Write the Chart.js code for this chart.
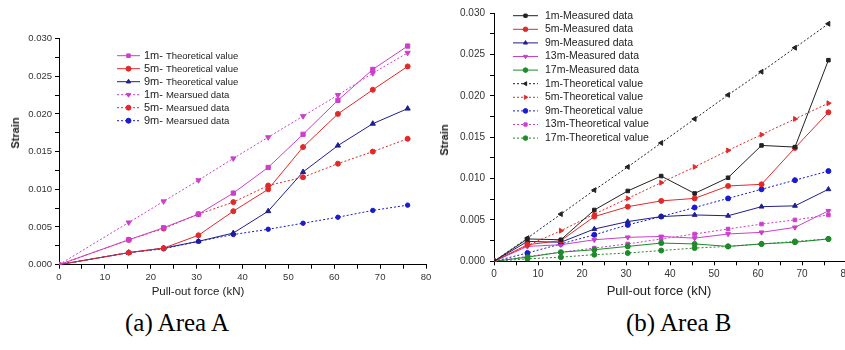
<!DOCTYPE html>
<html>
<head>
<meta charset="utf-8">
<script src="https://cdn.jsdelivr.net/npm/chart.js@4.4.0/dist/chart.umd.min.js"></script>
<style>
  html, body { margin: 0; padding: 0; background: #fff; }
  body { width: 845px; height: 350px; overflow: hidden; position: relative; font-family: "Liberation Sans", Arial, sans-serif; }
  canvas { position: absolute; top: 0; }
  #chartA { left: 0; }
  #chartB { left: 430px; }
  .ytitle { position: absolute; font-weight: bold; font-size: 11px; color: #222; transform: translate(-50%, -50%) rotate(-90deg); white-space: nowrap; }
  .xtitle { position: absolute; color: #222; transform: translate(-50%, -50%); white-space: nowrap; }
  .caption { position: absolute; font-family: "Liberation Serif", "Times New Roman", serif; font-size: 25px; color: #000; white-space: nowrap; }
</style>
</head>
<body>
<canvas id="chartA" width="440" height="300"></canvas>
<canvas id="chartB" width="425" height="300"></canvas>

<div class="ytitle" style="left:15px; top:133px;">Strain</div>
<div class="ytitle" style="left:444px; top:140px;">Strain</div>
<div class="xtitle" style="left:198px; top:291px; font-size:11.5px;">Pull-out force (kN)</div>
<div class="xtitle" style="left:659px; top:290px; font-size:13px;">Pull-out force (kN)</div>
<div class="caption" style="left:125px; top:309px;">(a) Area A</div>
<div class="caption" style="left:626px; top:309px;">(b) Area B</div>

<script>
// --- Area A
var forceA = [0, 15.2, 22.8, 30.4, 38, 45.6, 53.2, 60.8, 68.4, 76];
var a1mTheo = [0, 0.0033, 0.0049, 0.0067, 0.0095, 0.0129, 0.0173, 0.0218, 0.0259, 0.0290];
var a5mTheo = [0, 0.0016, 0.0022, 0.0039, 0.0071, 0.0100, 0.0156, 0.0200, 0.0232, 0.0263];
var a9mTheo = [0, 0.0016, 0.0022, 0.0031, 0.0042, 0.0071, 0.0123, 0.0158, 0.0187, 0.0207];
var a1mMeas = [0, 0.0056, 0.0084, 0.0112, 0.0141, 0.0169, 0.0197, 0.0225, 0.0254, 0.0281];
var a5mMeas = [0, 0.0033, 0.0048, 0.0067, 0.0083, 0.0105, 0.0116, 0.0134, 0.0150, 0.0167];
var a9mMeas = [0, 0.0016, 0.0021, 0.0031, 0.0040, 0.0047, 0.0055, 0.0063, 0.0072, 0.0079];

// --- Area B
var forceB = [0, 7.6, 15.2, 22.8, 30.4, 38, 45.6, 53.2, 60.8, 68.4, 76];
var b1mMeas = [0, 0.0027, 0.0026, 0.0062, 0.0085, 0.0103, 0.0082, 0.0101, 0.0140, 0.0138, 0.0243];
var b5mMeas = [0, 0.0020, 0.0025, 0.0054, 0.0066, 0.0073, 0.0076, 0.0091, 0.0093, 0.0137, 0.0180];
var b9mMeas = [0, 0.0024, 0.0023, 0.0039, 0.0048, 0.0054, 0.0056, 0.0055, 0.0066, 0.0067, 0.0087];
var b13mMeas = [0, 0.0018, 0.0020, 0.0026, 0.0029, 0.0030, 0.0028, 0.0033, 0.0035, 0.0041, 0.0061];
var b17mMeas = [0, 0.0005, 0.0011, 0.0014, 0.0018, 0.0022, 0.0021, 0.0018, 0.0021, 0.0023, 0.0027];
var b1mTheo = [0, 0.0028, 0.0057, 0.0086, 0.0114, 0.0143, 0.0172, 0.0201, 0.0229, 0.0258, 0.0287];
var b5mTheo = [0, 0.0019, 0.0037, 0.0057, 0.0076, 0.0095, 0.0114, 0.0134, 0.0153, 0.0172, 0.0191];
var b9mTheo = [0, 0.0010, 0.0021, 0.0032, 0.0044, 0.0054, 0.0065, 0.0076, 0.0087, 0.0098, 0.0109];
var b13mTheo = [0, 0.0006, 0.0011, 0.0016, 0.0021, 0.0027, 0.0033, 0.0039, 0.0045, 0.0050, 0.0056];
var b17mTheo = [0, 0.0003, 0.0005, 0.0008, 0.0010, 0.0013, 0.0016, 0.0018, 0.0021, 0.0024, 0.0027];

// axis tick labels
var xMajor = 10, xMinor = 5;
var yMajor = 0.005, yMinor = 0.0025;

function pts(xs, ys) {
    return xs.map(function (x, i) { return { x: x, y: ys[i] }; });
}

function series(label, xs, ys, color, style, dotted, rot, r) {
    return {
        label: label,
        data: pts(xs, ys),
        borderColor: color,
        backgroundColor: color,
        borderWidth: 1,
        borderDash: dotted ? [2, 2] : [],
        pointStyle: style,
        pointRotation: rot || 0,
        pointRadius: r,
        pointHoverRadius: r,
        pointBorderWidth: 1,
        tension: 0,
        fill: false
    };
}

// legend drawn inside the plot, like the original figure
function boxLegend(cfg) {
    return {
        id: 'boxLegend',
        afterDraw: function (chart) {
            var ctx = chart.ctx;
            chart.data.datasets.forEach(function (ds, i) {
                var y = cfg.y + i * cfg.dy;
                ctx.save();
                ctx.strokeStyle = ds.borderColor;
                ctx.lineWidth = 1;
                ctx.setLineDash(ds.borderDash);
                ctx.beginPath();
                ctx.moveTo(cfg.x, y);
                ctx.lineTo(cfg.x + cfg.len, y);
                ctx.stroke();
                ctx.setLineDash([]);
                ctx.fillStyle = ds.borderColor;
                if (Chart.helpers && Chart.helpers.drawPoint) {
                    Chart.helpers.drawPoint(ctx, {
                        pointStyle: ds.pointStyle, radius: cfg.r,
                        rotation: ds.pointRotation, borderWidth: 1
                    }, cfg.x + cfg.len / 2, y);
                }
                ctx.fillStyle = '#222';
                ctx.textBaseline = 'middle';
                if (cfg.split) {
                    var k = ds.label.indexOf(' ');
                    var head = ds.label.substring(0, k), rest = ds.label.substring(k + 1);
                    ctx.font = cfg.headFont;
                    ctx.fillText(head, cfg.tx, y);
                    var w = ctx.measureText(head).width;
                    ctx.font = cfg.font;
                    ctx.fillText(rest, cfg.tx + w + 3, y + 0.5);
                } else {
                    ctx.font = cfg.font;
                    ctx.fillText(ds.label, cfg.tx, y);
                }
                ctx.restore();
            });
        }
    };
}

function options(yW, xH, pad, fontSize, yPad) {
    var tickFont = { family: '"Liberation Sans", Arial, sans-serif', size: fontSize };
    return {
        responsive: false,
        animation: false,
        layout: { padding: pad },
        plugins: { legend: { display: false }, tooltip: { enabled: false } },
        scales: {
            x: {
                type: 'linear', min: 0, max: 80,
                border: { display: true, color: '#000', width: 1 },
                grid: { drawOnChartArea: false, drawTicks: true, tickLength: 4, color: '#000' },
                ticks: {
                    stepSize: xMinor, autoSkip: false, maxRotation: 0, padding: 3,
                    color: '#333', font: tickFont,
                    callback: function (v) { return v % xMajor === 0 ? v : ''; }
                },
                afterFit: function (s) { s.height = xH; }
            },
            y: {
                type: 'linear', min: 0, max: 0.03,
                border: { display: true, color: '#000', width: 1 },
                grid: { drawOnChartArea: false, drawTicks: true, tickLength: 4, color: '#000' },
                ticks: {
                    stepSize: yMinor, autoSkip: false, padding: yPad,
                    color: '#333', font: tickFont,
                    callback: function (v, i) { return i % 2 === 0 ? v.toFixed(3) : ''; }
                },
                afterFit: function (s) { s.width = yW; }
            }
        }
    };
}

var magenta = '#cc3fcc', red = '#e02a2a', navy = '#1f1f8f', blue = '#1a1ad0', green = '#1f8a2a', black = '#222';

new Chart(document.getElementById('chartA'), {
    type: 'line',
    data: {
        datasets: [
            series('1m- Theoretical value', forceA, a1mTheo, magenta, 'rect', false, 0, 3),
            series('5m- Theoretical value', forceA, a5mTheo, red, 'circle', false, 0, 2.5),
            series('9m- Theoretical value', forceA, a9mTheo, navy, 'triangle', false, 0, 3),
            series('1m- Mearsued data', forceA, a1mMeas, magenta, 'triangle', true, 180, 3),
            series('5m- Mearsued data', forceA, a5mMeas, red, 'circle', true, 0, 2.5),
            series('9m- Mearsued data', forceA, a9mMeas, blue, 'circle', true, 0, 2.2)
        ]
    },
    options: options(59, 35.3, { left: 0, right: 14, top: 38.5, bottom: 0 }, 9.5, 3),
    plugins: [boxLegend({
        x: 117, len: 23, tx: 144, y: 55.7, dy: 13, r: 2.5, split: true,
        headFont: '11px "Liberation Sans", Arial, sans-serif',
        font: '9.5px "Liberation Sans", Arial, sans-serif'
    })]
});

new Chart(document.getElementById('chartB'), {
    type: 'line',
    data: {
        datasets: [
            series('1m-Measured data', forceB, b1mMeas, black, 'rect', false, 0, 2.5),
            series('5m-Measured data', forceB, b5mMeas, red, 'circle', false, 0, 2.5),
            series('9m-Measured data', forceB, b9mMeas, navy, 'triangle', false, 0, 2.8),
            series('13m-Measured data', forceB, b13mMeas, magenta, 'triangle', false, 180, 2.8),
            series('17m-Measured data', forceB, b17mMeas, green, 'circle', false, 0, 2.5),
            series('1m-Theoretical value', forceB, b1mTheo, black, 'triangle', true, 270, 2.8),
            series('5m-Theoretical value', forceB, b5mTheo, red, 'triangle', true, 90, 2.8),
            series('9m-Theoretical value', forceB, b9mTheo, blue, 'circle', true, 0, 2.5),
            series('13m-Theoretical value', forceB, b13mTheo, magenta, 'rect', true, 0, 2.5),
            series('17m-Theoretical value', forceB, b17mTheo, green, 'circle', true, 0, 2.5)
        ]
    },
    options: options(64, 38.7, { left: 0, right: 9, top: 13, bottom: 0 }, 10, 5),
    plugins: [boxLegend({
        x: 83, len: 25, tx: 115, y: 15.7, dy: 13.6, r: 2.3, split: false,
        font: '10.5px "Liberation Sans", Arial, sans-serif'
    })]
});
</script>
</body>
</html>
